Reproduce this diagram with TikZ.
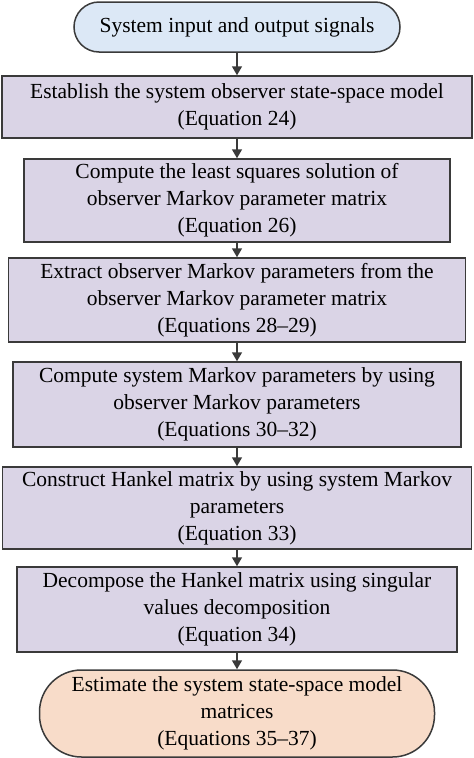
\documentclass[tikz,border=0pt]{standalone}
\usepackage{fontspec}
\setmainfont{Liberation Serif}
\usetikzlibrary{arrows.meta}

\definecolor{termblue}{HTML}{DCE8F6}
\definecolor{steppurple}{HTML}{DAD4E6}
\definecolor{endorange}{HTML}{F8DCC9}
\definecolor{boxline}{HTML}{3A3A3A}

\tikzset{
  stepbox/.style={draw=boxline, line width=1.5pt, fill=steppurple, align=center,
    inner sep=0pt, font=\fontsize{21.5}{27}\selectfont},
  termbox/.style={stepbox, rounded corners=#1},
  flow/.style={draw=boxline, line width=1.5pt, -{Triangle[length=9pt,width=10pt]}}
}

\begin{document}
\begin{tikzpicture}
         \useasboundingbox (0,0) rectangle (474pt,-758pt) ;
         % start and end
         \node[termbox=25pt, fill=termblue, minimum width=326pt, minimum height=50pt]
           (signals) at (237pt,-27pt) {System input and output signals} ;
         \node[termbox=42pt, fill=endorange, minimum width=395pt, minimum height=87pt]
           (estimate) at (237pt,-713.5pt)
           {Estimate the system state-space model\\matrices\\(Equations 35--37)} ;
         % steps
         \node[stepbox, minimum width=470pt, minimum height=62pt]
           (observer) at (237pt,-107pt)
           {Establish the system observer state-space model\\(Equation 24)} ;
         \node[stepbox, minimum width=426pt, minimum height=83pt]
           (lsq) at (237pt,-200.5pt)
           {Compute the least squares solution of\\observer Markov parameter matrix\\(Equation 26)} ;
         \node[stepbox, minimum width=457pt, minimum height=84pt]
           (extract) at (237pt,-300pt)
           {Extract observer Markov parameters from the\\observer Markov parameter matrix\\(Equations 28--29)} ;
         \node[stepbox, minimum width=448pt, minimum height=85pt]
           (sysmarkov) at (237pt,-404.5pt)
           {Compute system Markov parameters by using\\observer Markov parameters\\(Equations 30--32)} ;
         \node[stepbox, minimum width=469pt, minimum height=82pt]
           (hankel) at (237pt,-508pt)
           {Construct Hankel matrix by using system Markov\\parameters\\(Equation 33)} ;
         \node[stepbox, minimum width=440pt, minimum height=85pt]
           (svd) at (237pt,-609.5pt)
           {Decompose the Hankel matrix using singular\\values decomposition\\(Equation 34)} ;
         % arrows
         \draw[flow] (signals) -- (observer) ;
         \draw[flow] (observer) -- (lsq) ;
         \draw[flow] (lsq) -- (extract) ;
         \draw[flow] (extract) -- (sysmarkov) ;
         \draw[flow] (sysmarkov) -- (hankel) ;
         \draw[flow] (hankel) -- (svd) ;
         \draw[flow] (svd) -- (estimate) ;
      \end{tikzpicture}
\end{document}
